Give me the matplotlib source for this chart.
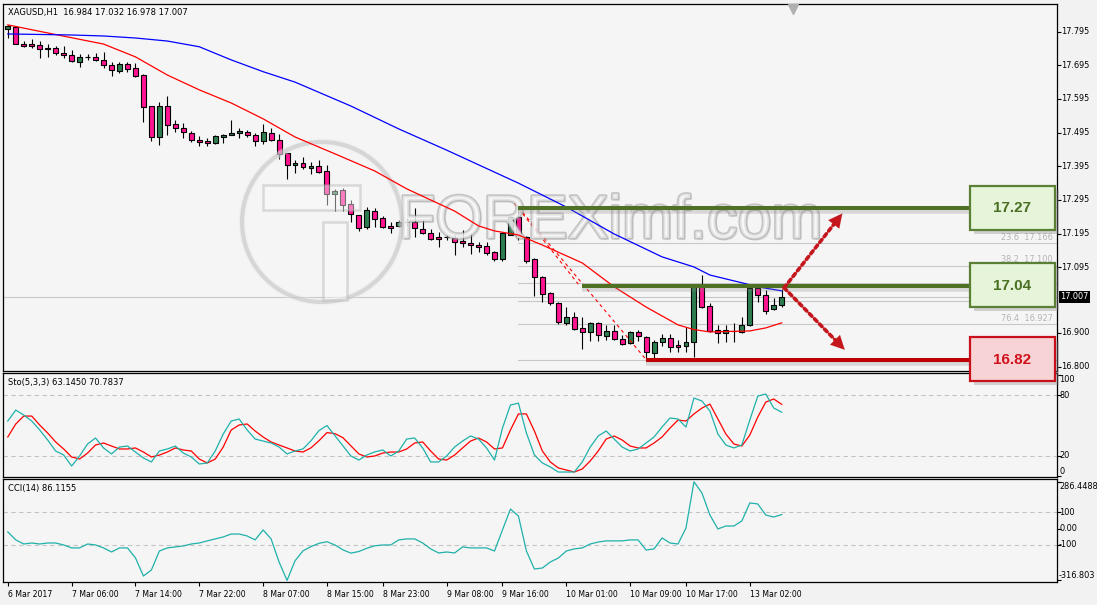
import numpy as np
import matplotlib.pyplot as plt
from matplotlib.patches import Rectangle, Ellipse
from matplotlib import patheffects as pe
from matplotlib.transforms import blended_transform_factory

# ---- data (XAGUSD H1) ----
header = "XAGUSD,H1  16.984 17.032 16.978 17.007"

opens = [17.803, 17.810, 17.758, 17.757, 17.755, 17.745, 17.746, 17.732, 17.726, 17.705,
         17.720, 17.720, 17.711, 17.696, 17.678, 17.699, 17.687, 17.666, 17.574, 17.482,
         17.574, 17.521, 17.509, 17.494, 17.473, 17.470, 17.464, 17.482, 17.488, 17.494,
         17.497, 17.488, 17.470, 17.494, 17.473, 17.435, 17.399, 17.405, 17.390, 17.396,
         17.381, 17.313, 17.325, 17.283, 17.250, 17.215, 17.262, 17.242, 17.218, 17.218,
         17.230, 17.230, 17.209, 17.197, 17.185, 17.185, 17.182, 17.173, 17.167, 17.161,
         17.158, 17.141, 17.120, 17.191, 17.244, 17.185, 17.120, 17.066, 17.019, 16.989,
         16.930, 16.947, 16.915, 16.903, 16.930, 16.891, 16.906, 16.882, 16.870, 16.903,
         16.888, 16.841, 16.873, 16.885, 16.864, 16.861, 16.873, 17.043, 16.980, 16.909,
         16.900, 16.906, 16.903, 16.924, 17.034, 17.013, 16.971, 16.984]
highs = [17.815, 17.812, 17.767, 17.773, 17.767, 17.758, 17.752, 17.752, 17.740, 17.729,
         17.729, 17.732, 17.735, 17.705, 17.705, 17.705, 17.702, 17.669, 17.574, 17.586,
         17.604, 17.533, 17.524, 17.500, 17.485, 17.479, 17.488, 17.491, 17.533, 17.509,
         17.503, 17.494, 17.521, 17.509, 17.491, 17.435, 17.414, 17.423, 17.408, 17.414,
         17.399, 17.328, 17.331, 17.295, 17.250, 17.274, 17.271, 17.247, 17.230, 17.236,
         17.242, 17.271, 17.236, 17.209, 17.200, 17.191, 17.191, 17.206, 17.197, 17.170,
         17.170, 17.144, 17.200, 17.247, 17.273, 17.188, 17.123, 17.069, 17.022, 16.992,
         16.977, 16.962, 16.947, 16.933, 16.933, 16.924, 16.924, 16.894, 16.906, 16.909,
         16.891, 16.879, 16.897, 16.897, 16.879, 16.918, 17.046, 17.072, 16.989, 16.924,
         16.924, 16.930, 16.947, 17.036, 17.043, 17.028, 17.004, 17.032]
lows = [17.776, 17.757, 17.749, 17.746, 17.717, 17.720, 17.726, 17.717, 17.705, 17.690,
        17.711, 17.708, 17.687, 17.663, 17.672, 17.675, 17.660, 17.527, 17.470, 17.458,
        17.488, 17.497, 17.479, 17.467, 17.455, 17.455, 17.461, 17.464, 17.488, 17.479,
        17.482, 17.455, 17.461, 17.470, 17.417, 17.357, 17.375, 17.387, 17.372, 17.375,
        17.280, 17.262, 17.262, 17.230, 17.203, 17.209, 17.215, 17.212, 17.197, 17.215,
        17.218, 17.185, 17.194, 17.176, 17.155, 17.176, 17.132, 17.155, 17.135, 17.141,
        17.132, 17.114, 17.114, 17.191, 17.176, 17.108, 17.010, 16.992, 16.983, 16.927,
        16.924, 16.909, 16.852, 16.876, 16.876, 16.879, 16.879, 16.864, 16.867, 16.876,
        16.821, 16.823, 16.861, 16.843, 16.843, 16.843, 16.829, 16.974, 16.903, 16.870,
        16.873, 16.873, 16.900, 16.922, 16.992, 16.956, 16.968, 16.978]
closes = [17.812, 17.758, 17.752, 17.753, 17.743, 17.744, 17.732, 17.726, 17.708, 17.720,
          17.721, 17.711, 17.696, 17.681, 17.699, 17.684, 17.663, 17.571, 17.482, 17.574,
          17.518, 17.509, 17.497, 17.473, 17.467, 17.464, 17.485, 17.488, 17.494, 17.500,
          17.488, 17.470, 17.497, 17.473, 17.432, 17.399, 17.405, 17.393, 17.396, 17.378,
          17.313, 17.322, 17.280, 17.253, 17.212, 17.265, 17.239, 17.215, 17.212, 17.230,
          17.231, 17.212, 17.197, 17.179, 17.179, 17.184, 17.170, 17.167, 17.161, 17.155,
          17.138, 17.120, 17.197, 17.244, 17.188, 17.114, 17.066, 17.016, 16.989, 16.933,
          16.947, 16.912, 16.903, 16.930, 16.894, 16.906, 16.882, 16.867, 16.903, 16.891,
          16.843, 16.873, 16.885, 16.858, 16.858, 16.873, 17.043, 16.977, 16.906, 16.900,
          16.909, 16.907, 16.924, 17.034, 17.013, 16.965, 16.983, 17.007]

# moving averages (bar index, value)
ma_fast_idx = [0, 5, 12, 16, 20, 24, 28, 32, 36, 41, 46, 50, 56, 59, 61, 64, 67, 72, 76, 80, 84, 86, 88, 93, 95, 97]
ma_fast = [17.815, 17.791, 17.758, 17.720, 17.666, 17.622, 17.583, 17.536, 17.482, 17.432, 17.381, 17.328, 17.262,
           17.218, 17.203, 17.191, 17.161, 17.108, 17.037, 16.977, 16.924, 16.910, 16.903, 16.906, 16.915, 16.930]
ma_slow_idx = [0, 8, 12, 16, 20, 24, 28, 32, 36, 43, 49, 55, 64, 70, 76, 82, 86, 88, 92, 94, 97]
ma_slow = [17.788, 17.785, 17.782, 17.776, 17.767, 17.750, 17.711, 17.676, 17.645, 17.574, 17.506, 17.443, 17.345,
           17.274, 17.194, 17.126, 17.096, 17.072, 17.049, 17.037, 17.025]

sto_main = [54.4, 65.2, 60.3, 54.4, 45.6, 35.7, 24.9, 21.0, 10.1, 20.0,
            31.8, 37.7, 27.9, 22.0, 28.8, 29.8, 23.9, 18.0, 14.1, 24.9,
            26.9, 29.8, 22.9, 19.0, 12.1, 13.1, 24.9, 41.6, 54.4, 56.4,
            45.6, 36.7, 34.7, 32.8, 28.8, 22.0, 24.9, 26.9, 35.0, 45.0,
            50.0, 40.0, 30.0, 20.0, 16.0, 21.0, 24.0, 25.9, 20.0, 24.9,
            36.7, 37.7, 27.9, 14.1, 14.1, 20.0, 28.8, 34.7, 39.7, 36.7,
            27.9, 16.0, 47.5, 70.2, 72.0, 42.6, 21.0, 13.1, 9.2, 4.2,
            4.2, 4.2, 14.1, 28.8, 39.7, 44.6, 36.7, 28.8, 24.9, 26.9,
            32.8, 38.7, 48.5, 57.4, 56.4, 48.5, 77.1, 74.1, 64.3, 41.6,
            30.8, 27.9, 30.8, 55.4, 79.0, 81.0, 67.2, 63.1]
sto_signal = [38.7, 51.5, 59.3, 59.3, 50.5, 42.6, 33.8, 26.9, 19.0, 17.0,
              22.9, 30.8, 32.8, 29.8, 26.9, 26.9, 27.9, 23.9, 19.0, 20.9,
              23.9, 27.9, 25.9, 24.9, 17.0, 13.1, 17.0, 28.8, 45.6, 50.5,
              51.5, 44.6, 38.7, 33.8, 30.8, 27.9, 24.9, 23.9, 28.0, 35.0,
              43.0, 42.0, 38.0, 30.0, 22.0, 19.0, 20.0, 22.9, 23.9, 23.9,
              26.9, 32.8, 33.8, 24.9, 17.0, 16.0, 20.9, 27.9, 34.7, 37.7,
              33.8, 26.9, 27.9, 45.6, 61.4, 61.4, 44.6, 24.9, 14.1, 8.2,
              6.2, 4.2, 7.2, 15.1, 24.9, 36.7, 39.7, 35.7, 29.8, 27.9,
              27.9, 32.8, 38.7, 47.5, 55.4, 54.4, 61.4, 67.2, 71.1, 56.4,
              41.6, 31.8, 29.8, 40.6, 58.4, 73.1, 76.1, 70.8]
cci = [-20, -69, -94, -88, -94, -88, -88, -100, -118, -118,
       -94, -100, -118, -143, -118, -118, -179, -290, -253, -137,
       -118, -112, -106, -94, -88, -75, -63, -51, -33, -33,
       -45, -69, -8, -63, -204, -316.8, -197, -136, -110, -90,
       -80, -100, -130, -150, -140, -120, -105, -100, -100, -69,
       -63, -63, -88, -124, -149, -143, -149, -112, -118, -118,
       -118, -137, -8, 120, 77, -137, -247, -241, -204, -180,
       -137, -124, -118, -94, -82, -75, -75, -75, -69, -69,
       -131, -124, -57, -88, -94, 4, 286.4, 218, 83, -2,
       16, 16, 47, 157, 151, 83, 71, 86.1]

xtick_idx = [0, 8, 16, 24, 32, 40, 47, 55, 62, 70, 78, 85, 93]
xtick_labels = ["6 Mar 2017", "7 Mar 06:00", "7 Mar 14:00", "7 Mar 22:00", "8 Mar 07:00",
                "8 Mar 15:00", "8 Mar 23:00", "9 Mar 08:00", "9 Mar 16:00", "10 Mar 01:00",
                "10 Mar 09:00", "10 Mar 17:00", "13 Mar 02:00"]
price_ticks = [17.795, 17.695, 17.595, 17.495, 17.395, 17.295, 17.195, 17.095, 16.900, 16.800]
last_price = 17.007

fib_pcts = ["0.0", "23.6", "38.2", "50.0", "61.8", "76.4", "100.0"]
fib_prices = [17.273, 17.166, 17.100, 17.047, 16.994, 16.927, 16.821]
fib_shown = ["23.6", "38.2", "76.4"]   # the rest sit behind the level boxes
fib_from = 64

levels = [17.27, 17.04, 16.82]
level_from = [64, 72, 80]
level_kind = ["res", "res", "sup"]

# ---- styling ----
W, H = 1097, 605
BG = '#f2f2f2'
PANEL = '#f5f5f5'
BULL = '#2e7d50'
BEAR = '#ff1493'
TEAL = '#1fb1aa'
DASH = '#c4c4c4'
ARROW = '#c4161c'
XMAX = 131.5
BOX_X0, BOX_X1 = 120.6, 131.2
FS = 5.6

x = np.arange(len(opens))
o, h, l, c = map(np.array, (opens, highs, lows, closes))

fig = plt.figure(figsize=(W / 100, H / 100), dpi=100, facecolor=BG)


def panel(top, bottom):
    a = fig.add_axes([3 / W, 1 - bottom / H, 1054 / W, (bottom - top) / H])
    a.set_facecolor(PANEL)
    a.set_xlim(-0.6, XMAX)
    for s in a.spines.values():
        s.set_linewidth(0.9)
        s.set_color('black')
    a.tick_params(axis='x', bottom=False, labelbottom=False)
    a.tick_params(axis='y', left=False, labelleft=False, right=True, labelright=False,
                  direction='out', length=3, width=0.8)
    return a


def right_labels(a, values, texts, vas=None, xoff=1.004):
    tr = blended_transform_factory(a.transAxes, a.transData)
    a.set_yticks(values)
    vas = vas or ['center'] * len(values)
    for v, t, va in zip(values, texts, vas):
        a.text(xoff, v, t, transform=tr, ha='left', va=va, fontsize=FS + 0.3, clip_on=False)


ax = panel(4, 371)
ax_sto = panel(373, 477)
ax_cci = panel(479, 582)
ax.set_zorder(3)

# ---- main price panel ----
ax.set_ylim(16.787, 17.877)
right_labels(ax, price_ticks, [f"{p:.3f}" for p in price_ticks])
tr_main = blended_transform_factory(ax.transAxes, ax.transData)
ax.text(1.003, last_price, f"{last_price:.3f}", transform=tr_main, ha='left', va='center',
        fontsize=FS + 0.3, color='white', clip_on=False, zorder=10,
        bbox=dict(facecolor='black', edgecolor='none', pad=1.2))
ax.axhline(last_price, color='#c8c8c8', lw=0.8, zorder=1)

# fibonacci levels
for pct, fp in zip(fib_pcts, fib_prices):
    ax.plot([fib_from, XMAX], [fp, fp], color='#c8c8c8', lw=0.8, zorder=1)
    if pct in fib_shown:
        ax.text(0.996, fp + 0.004, f"{pct}  {fp:.3f}", transform=tr_main, ha='right', va='bottom',
                fontsize=FS + 0.3, color='#b4b4b4', zorder=1)
ax.plot([fib_from, level_from[2]], [fib_prices[0], fib_prices[-1]], color='red', lw=0.8,
        ls=(0, (3, 3)), zorder=4)
ax.plot([fib_from - 0.5, level_from[1] - 0.5], [17.285, 17.045], color='red', lw=0.8,
        ls=(0, (3, 3)), zorder=4)

# candles
ax.vlines(x, l, h, color='black', lw=0.8, zorder=2)
ax.bar(x, np.maximum(np.abs(c - o), 0.0006), bottom=np.minimum(o, c), width=0.62,
       color=np.where(c >= o, BULL, BEAR), edgecolor='black', linewidth=0.8, zorder=3)

ax.plot(ma_fast_idx, ma_fast, color='red', lw=0.9, zorder=5)
ax.plot(ma_slow_idx, ma_slow, color='blue', lw=0.9, zorder=5)

# watermark


def px2ax(px, py):
    return (px - 3) / 1054, (371 - py) / 367


wm_kw = dict(transform=ax.transAxes, zorder=4)
ax.text(*px2ax(398, 238), "FOREXimf.com", fontsize=44, family='Liberation Sans',
        color='#fdfdfd', alpha=0.55, va='baseline', ha='left',
        path_effects=[pe.SimplePatchShadow(offset=(1.5, -1.5), shadow_rgbFace='#909090', alpha=0.15),
                      pe.withStroke(linewidth=2.4, foreground='#9c9c9c')], **wm_kw)
cx, cy = px2ax(322, 222)
ax.add_patch(Ellipse((cx, cy), 160 / 1054, 160 / 367, fill=False, edgecolor='#b8b8b8', lw=3, alpha=0.45,
                     path_effects=[pe.withStroke(linewidth=5, foreground='#ececec')], **wm_kw))
for (x0, y0, x1, y1) in [(263, 185, 360, 210), (323, 222, 347, 300)]:
    ax0, ay1 = px2ax(x0, y0)
    ax1, ay0 = px2ax(x1, y1)
    ax.add_patch(Rectangle((ax0, ay0), ax1 - ax0, ay1 - ay0, facecolor='#fafafa', edgecolor='#b4b4b4',
                           lw=1.8, alpha=0.45, **wm_kw))

# support / resistance lines and labels
for lvl, start, kind in zip(levels, level_from, level_kind):
    col = '#4f7124' if kind == 'res' else '#c00000'
    face = '#e6f4d9' if kind == 'res' else '#f8d3d5'
    edge = '#5b7f34' if kind == 'res' else '#c8101a'
    tcol = '#4a7023' if kind == 'res' else '#d0101a'
    ax.plot([start, BOX_X0], [lvl - 0.009, lvl - 0.009], color='#808080', lw=4, alpha=0.25,
            solid_capstyle='butt', zorder=6)
    ax.plot([start, BOX_X0], [lvl, lvl], color=col, lw=2.9, solid_capstyle='butt', zorder=7)
    ax.add_patch(Rectangle((BOX_X0 + 0.5, lvl - 0.075), BOX_X1 - BOX_X0, 0.131, facecolor='#888888',
                           edgecolor='none', alpha=0.35, clip_on=False, zorder=7))
    ax.add_patch(Rectangle((BOX_X0, lvl - 0.064), BOX_X1 - BOX_X0, 0.131, facecolor=face,
                           edgecolor=edge, lw=1.6, clip_on=False, zorder=8))
    ax.text((BOX_X0 + BOX_X1) / 2, lvl, f"{lvl:.2f}", ha='center', va='center', fontsize=11,
            fontweight='bold', family='Liberation Sans', color=tcol, zorder=9, clip_on=False)

# projected paths
arrow_start = (97.3, 17.034)
arrow_ends = [(104.6, 17.255), (104.9, 16.850)]
for xe, ye in arrow_ends:
    xs, ys = arrow_start
    ax.annotate('', xy=(xe, ye), xytext=(xs, ys), zorder=9,
                arrowprops=dict(arrowstyle='-', color=ARROW, lw=2.6, linestyle=(0, (1, 1)),
                                shrinkA=0, shrinkB=5))
    ax.annotate('', xy=(xe, ye), xytext=(xe - 0.2 * (xe - xs), ye - 0.2 * (ye - ys)), zorder=9,
                arrowprops=dict(arrowstyle='-|>,head_length=0.9,head_width=0.45', color=ARROW,
                                lw=0.1, mutation_scale=11, shrinkA=0, shrinkB=0))

ax.plot([98.4], [17.862], marker='v', color='#b0b0b0', ms=7, clip_on=False, zorder=9)
ax.text(*px2ax(8, 12.5), header, transform=ax.transAxes, ha='left', va='center', fontsize=FS + 0.4)

# ---- stochastic ----
ax_sto.set_ylim(-0.7, 101.7)
right_labels(ax_sto, [100, 80, 20, 0], ["100", "80", "20", "0"],
             vas=['top', 'center', 'center', 'bottom'], xoff=1.002)
for v in (80, 20):
    ax_sto.axhline(v, color=DASH, lw=0.8, ls=(0, (4, 3)))
ax_sto.plot(x, sto_signal, color='red', lw=0.9)
ax_sto.plot(x, sto_main, color=TEAL, lw=0.9)
ax_sto.text(5 / 1054, 1 - 9.5 / 104, "Sto(5,3,3) 63.1450 70.7837", transform=ax_sto.transAxes,
            ha='left', va='center', fontsize=FS + 0.4)

# ---- CCI ----
ax_cci.set_ylim(-326.6, 303.6)
right_labels(ax_cci, [286.4488, 100, 0, -100, -316.803],
             ["286.4488", "100", "0.00", "-100", "-316.803"],
             vas=['top', 'center', 'center', 'center', 'bottom'], xoff=1.002)
for v in (100, -100):
    ax_cci.axhline(v, color=DASH, lw=0.8, ls=(0, (4, 3)))
ax_cci.plot(x, cci, color=TEAL, lw=0.9)
ax_cci.text(5 / 1054, 1 - 9 / 103, "CCI(14) 86.1155", transform=ax_cci.transAxes,
            ha='left', va='center', fontsize=FS + 0.4)
ax_cci.set_xticks(xtick_idx)
ax_cci.set_xticklabels(xtick_labels, ha='left', fontsize=FS)
ax_cci.tick_params(axis='x', bottom=True, labelbottom=True, direction='out', length=3, width=0.8, pad=3)

fig.savefig('out.png', dpi=100, facecolor=BG)
